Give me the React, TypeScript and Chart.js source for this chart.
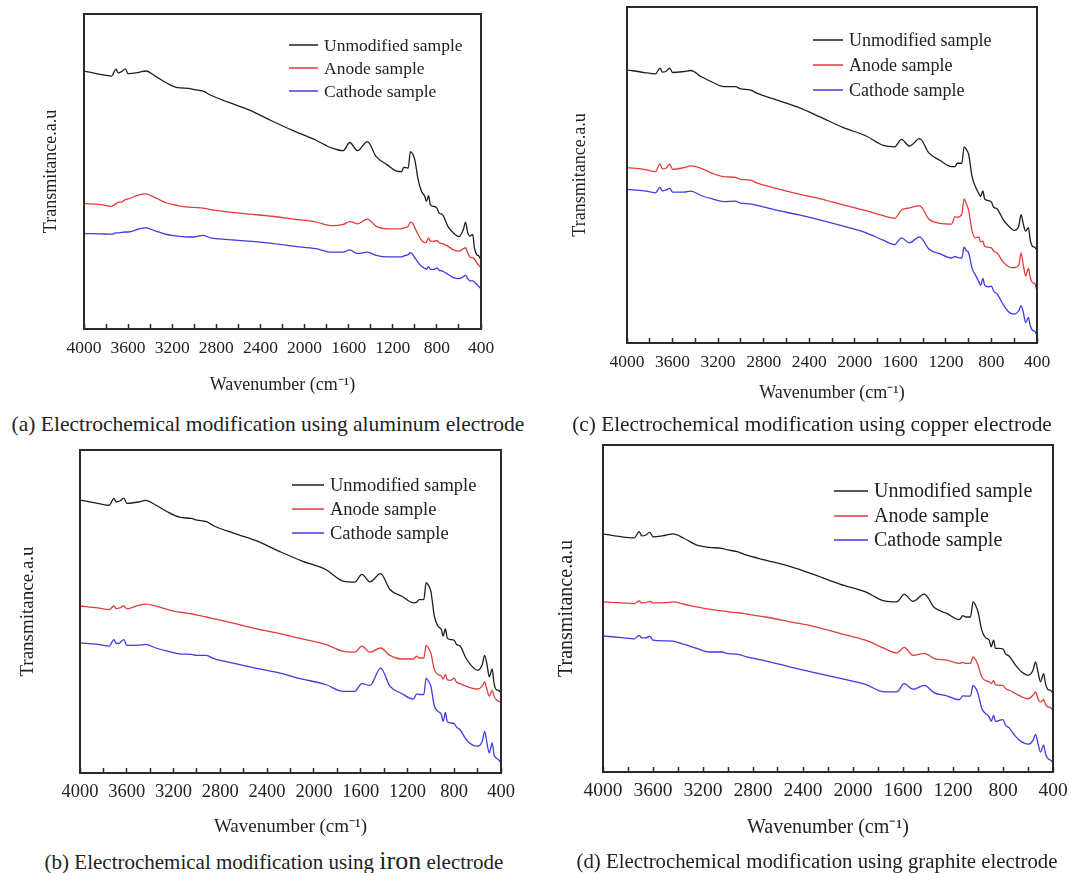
import React, { useEffect, useRef } from "react";
import { Chart, registerables } from "chart.js";

Chart.register(...registerables);

// Shared wavenumber grid (cm^-1), read left (4000) to right (400)
const wavenumbers = [4000, 3850, 3750, 3710, 3690, 3660, 3625, 3600, 3500, 3440, 3350, 3250, 3150, 3050, 3000, 2920, 2850, 2700, 2500, 2300, 2100, 1900, 1750, 1650, 1590, 1520, 1430, 1350, 1250, 1150, 1120, 1100, 1060, 1040, 1020, 1000, 970, 940, 910, 895, 875, 860, 830, 800, 780, 750, 700, 650, 600, 560, 540, 520, 500, 475, 460, 440, 420, 400];

// (a) aluminum electrode
const alUnmodified = [81.9, 80.8, 80.3, 82.5, 81.3, 81.7, 82.6, 81.1, 81.5, 81.9, 80.2, 78.1, 76.6, 76.4, 76.0, 75.5, 74.2, 72.1, 69.5, 66.1, 62.9, 60.0, 57.4, 56.6, 59.2, 56.6, 59.5, 54.7, 52.1, 50.0, 50.0, 51.3, 51.1, 56.3, 55.6, 53.7, 47.4, 43.7, 42.1, 40.5, 42.3, 39.5, 38.9, 38.4, 36.8, 36.3, 32.6, 30.5, 29.3, 31.6, 33.9, 30.5, 29.5, 30.0, 25.8, 23.7, 23.2, 21.9];
const alAnode = [39.8, 39.5, 38.9, 39.8, 40.2, 40.3, 41.1, 41.3, 42.6, 42.9, 41.6, 40.0, 39.2, 38.7, 38.6, 38.4, 37.9, 37.2, 36.5, 35.8, 34.9, 34.0, 32.8, 33.2, 34.1, 33.4, 34.9, 32.6, 31.8, 31.8, 31.9, 32.1, 32.6, 33.9, 33.5, 32.1, 30.0, 28.2, 27.4, 27.6, 28.9, 27.9, 27.8, 28.1, 27.4, 27.1, 26.3, 25.1, 24.7, 25.5, 25.8, 24.2, 22.8, 22.6, 22.3, 21.1, 20.2, 19.5];
const alCathode = [30.3, 30.2, 30.1, 30.5, 30.5, 30.7, 30.8, 30.8, 31.8, 32.1, 31.1, 30.0, 29.5, 29.2, 29.2, 29.7, 28.9, 28.4, 27.9, 27.2, 26.3, 25.5, 24.4, 24.4, 25.1, 24.0, 24.4, 23.4, 22.9, 22.9, 22.9, 23.2, 23.6, 24.2, 23.7, 22.6, 21.1, 20.0, 19.2, 18.9, 19.8, 18.9, 18.9, 19.4, 18.7, 18.4, 17.4, 16.3, 16.0, 16.6, 17.1, 16.0, 15.3, 15.3, 14.9, 14.2, 13.5, 12.8];

// (c) copper electrode
const cuUnmodified = [81.3, 80.5, 80.1, 81.8, 80.6, 80.8, 81.8, 80.5, 80.8, 81.1, 79.3, 77.6, 76.3, 76.3, 75.6, 75.3, 74.2, 72.5, 70.2, 67.2, 64.1, 61.6, 58.8, 58.4, 60.6, 58.6, 60.8, 56.6, 54.3, 52.5, 52.5, 53.5, 53.5, 58.4, 57.6, 56.1, 49.5, 46.5, 44.4, 43.6, 45.3, 42.9, 42.4, 41.9, 40.4, 39.9, 36.9, 34.8, 33.5, 34.8, 38.2, 35.4, 33.3, 34.3, 30.8, 28.8, 28.5, 27.5];
const cuAnode = [52.2, 51.7, 51.0, 53.3, 51.8, 52.0, 53.2, 51.7, 52.2, 52.7, 52.0, 50.5, 49.5, 49.3, 48.7, 48.5, 47.5, 46.1, 44.4, 42.9, 41.1, 39.4, 37.9, 37.1, 39.6, 40.2, 40.8, 36.9, 35.6, 35.4, 37.6, 37.4, 38.4, 42.9, 41.4, 39.4, 33.3, 31.3, 31.5, 30.1, 30.3, 28.8, 28.5, 28.3, 27.3, 26.8, 24.2, 22.7, 22.4, 23.2, 26.8, 23.2, 20.0, 22.2, 19.7, 18.0, 17.7, 15.4];
const cuCathode = [45.7, 45.3, 44.7, 46.3, 45.3, 45.5, 46.0, 44.9, 44.9, 45.2, 43.9, 42.9, 42.1, 42.2, 41.6, 41.4, 40.9, 39.6, 38.2, 36.6, 34.8, 32.8, 30.6, 29.3, 31.3, 29.8, 31.6, 28.0, 26.5, 25.3, 25.8, 25.5, 25.3, 28.5, 27.5, 26.8, 22.2, 20.2, 18.2, 17.2, 19.2, 17.2, 16.7, 16.9, 15.4, 14.6, 11.6, 9.3, 8.6, 9.6, 11.1, 9.1, 6.1, 7.6, 5.3, 3.8, 3.5, 2.2];

// (b) iron electrode
const feUnmodified = [84.5, 83.5, 82.9, 85.0, 83.9, 84.2, 85.1, 83.5, 83.9, 84.4, 82.9, 80.8, 79.2, 78.8, 78.3, 77.8, 76.4, 74.4, 72.0, 68.7, 65.6, 63.0, 59.4, 59.1, 61.5, 59.2, 61.7, 56.8, 54.8, 52.7, 52.9, 53.7, 53.7, 58.9, 58.1, 56.3, 48.6, 45.5, 44.4, 42.4, 44.6, 41.8, 41.3, 41.1, 39.8, 39.3, 35.6, 33.1, 31.8, 33.6, 36.4, 33.6, 29.8, 32.2, 27.9, 25.8, 25.6, 24.8];
const feAnode = [51.7, 51.1, 50.6, 51.7, 50.9, 51.1, 51.7, 50.8, 51.9, 52.3, 51.7, 50.6, 49.8, 49.3, 48.9, 48.3, 47.7, 46.5, 44.7, 43.2, 41.5, 39.8, 37.7, 37.4, 39.3, 37.4, 38.7, 36.4, 35.3, 35.3, 36.2, 35.6, 35.6, 39.5, 38.7, 37.2, 32.0, 30.5, 30.0, 29.1, 30.5, 28.9, 28.7, 29.4, 28.1, 27.7, 26.9, 26.3, 26.0, 26.9, 28.2, 25.8, 23.8, 25.6, 23.8, 22.7, 22.2, 21.9];
const feCathode = [40.3, 39.8, 39.3, 41.3, 40.1, 40.3, 41.3, 39.5, 39.6, 39.8, 38.7, 37.7, 36.9, 36.7, 36.4, 36.4, 35.3, 34.1, 32.5, 31.0, 29.1, 27.4, 25.3, 25.3, 27.7, 27.1, 32.5, 26.9, 24.6, 22.9, 24.5, 24.3, 24.3, 29.4, 28.4, 26.9, 20.7, 19.1, 18.1, 16.0, 18.8, 16.0, 15.5, 15.3, 14.2, 13.4, 10.5, 8.8, 8.3, 9.8, 12.9, 9.3, 6.2, 9.3, 5.7, 4.6, 4.1, 3.1];

// (d) graphite electrode
const grUnmodified = [72.8, 71.9, 71.6, 73.5, 72.2, 72.4, 73.3, 71.9, 72.4, 72.8, 71.4, 69.4, 68.7, 68.4, 67.9, 67.3, 66.3, 64.8, 62.8, 60.2, 57.4, 55.1, 52.3, 52.0, 54.3, 52.2, 54.4, 50.3, 48.5, 46.6, 47.8, 47.4, 47.4, 52.0, 51.0, 49.0, 43.4, 41.1, 40.3, 38.3, 40.3, 37.8, 37.8, 37.6, 36.2, 35.4, 32.7, 30.6, 29.6, 31.1, 33.7, 30.6, 27.6, 30.1, 27.0, 25.2, 25.0, 24.0];
const grAnode = [52.0, 51.7, 51.5, 52.3, 51.7, 51.8, 52.2, 51.7, 51.8, 52.0, 51.3, 50.5, 49.8, 49.3, 49.0, 48.7, 48.3, 47.4, 45.9, 44.4, 42.3, 40.3, 37.8, 36.4, 38.1, 35.7, 36.3, 34.7, 34.2, 33.2, 33.5, 33.2, 33.2, 35.2, 34.4, 32.7, 29.1, 27.9, 27.6, 27.0, 27.9, 26.7, 26.5, 26.5, 25.5, 25.0, 24.0, 23.0, 22.4, 23.5, 24.5, 22.4, 21.4, 22.1, 20.7, 19.9, 19.7, 18.9];
const grCathode = [41.6, 41.1, 40.7, 41.8, 41.0, 41.0, 41.5, 40.3, 40.1, 40.0, 39.0, 37.8, 36.7, 36.7, 36.2, 36.0, 35.2, 34.0, 32.1, 30.3, 28.6, 26.8, 24.5, 24.5, 27.0, 25.3, 26.5, 24.2, 23.3, 22.1, 23.3, 23.2, 23.2, 26.5, 25.7, 24.0, 19.4, 17.9, 16.8, 15.5, 17.3, 15.5, 15.8, 16.0, 14.3, 13.5, 10.9, 9.2, 8.5, 9.7, 11.5, 8.7, 6.1, 8.2, 5.6, 4.1, 3.6, 2.9];

const seriesLabels = ["Unmodified sample", "Anode sample", "Cathode sample"];
const seriesColors = ["#1e1e1e", "#e33c3c", "#3c3ce2"];
const xMin = 400;
const xMax = 4000;
const xStep = 200;
const xLabelStep = 400;
const xTitle = "Wavenumber (cm\u207B\u00B9)";
const yTitle = "Transmitance.a.u";

const FONT = '"Liberation Serif", "Times New Roman", Times, serif';
const YW = 70; // y-axis box width
const XH = 70; // x-axis box height
const PT = 10; // top padding
const PR = 30; // right padding

type PanelSpec = {
  id: string;
  series: number[][];
  L: number; T: number; R: number; B: number;
  tickFs: number; legendFs: number; titleFs: number;
  lx1: number; lx2: number; ltx: number; rows: number[];
  yTitleX: number; xTitleY: number;
  caption: React.ReactNode; capX: number; capY: number; capFs: number;
};

const panels: PanelSpec[] = [
  {
    id: "a", series: [alUnmodified, alAnode, alCathode],
    L: 84, T: 14, R: 481, B: 329, tickFs: 17.5, legendFs: 17.5, titleFs: 18,
    lx1: 289, lx2: 318, ltx: 324, rows: [45, 68, 91],
    yTitleX: 51, xTitleY: 385,
    caption: "(a) Electrochemical modification using aluminum electrode", capX: 268, capY: 425, capFs: 21.5,
  },
  {
    id: "c", series: [cuUnmodified, cuAnode, cuCathode],
    L: 627, T: 7, R: 1037, B: 343, tickFs: 17.5, legendFs: 18, titleFs: 18,
    lx1: 813, lx2: 843, ltx: 849, rows: [40, 65, 90],
    yTitleX: 580, xTitleY: 393,
    caption: "(c) Electrochemical modification using copper electrode", capX: 812, capY: 425, capFs: 21.3,
  },
  {
    id: "b", series: [feUnmodified, feAnode, feCathode],
    L: 80, T: 450, R: 501, B: 773, tickFs: 18.5, legendFs: 18.5, titleFs: 19,
    lx1: 292, lx2: 324, ltx: 330, rows: [485, 509, 533],
    yTitleX: 28, xTitleY: 827,
    caption: (
      <>
        (b) Electrochemical modification using <span style={{ fontSize: 26, fontFamily: '"Liberation Serif", serif' }}>iron</span> electrode
      </>
    ),
    capX: 274, capY: 861, capFs: 21,
  },
  {
    id: "d", series: [grUnmodified, grAnode, grCathode],
    L: 603, T: 445, R: 1053, B: 772, tickFs: 19.5, legendFs: 20, titleFs: 20,
    lx1: 834, lx2: 868, ltx: 874, rows: [491, 516, 540],
    yTitleX: 567, xTitleY: 828,
    caption: "(d) Electrochemical modification using graphite electrode", capX: 817, capY: 861, capFs: 20.8,
  },
];

function PanelChart({ p }: { p: PanelSpec }) {
  const ref = useRef<HTMLCanvasElement | null>(null);
  const cl = p.L - YW;
  const ct = p.T - PT;
  const cw = p.R - p.L + YW + PR;
  const ch = p.B - p.T + PT + XH;

  useEffect(() => {
    if (!ref.current) return;
    const frame = {
      id: "frame" + p.id,
      afterDraw(chart: any) {
        const { ctx, chartArea: a } = chart;
        ctx.save();
        ctx.strokeStyle = "#2a2a2a";
        ctx.lineWidth = 2;
        ctx.strokeRect(a.left, a.top, a.right - a.left, a.bottom - a.top);
        // legend
        ctx.font = `${p.legendFs}px ${FONT}`;
        ctx.textBaseline = "middle";
        ctx.textAlign = "left";
        seriesLabels.forEach((lab, i) => {
          const y = p.rows[i] - ct;
          ctx.strokeStyle = seriesColors[i];
          ctx.lineWidth = 1.5;
          ctx.beginPath();
          ctx.moveTo(p.lx1 - cl, y);
          ctx.lineTo(p.lx2 - cl, y);
          ctx.stroke();
          ctx.fillStyle = "#222";
          ctx.fillText(lab, p.ltx - cl, y + 1);
        });
        ctx.restore();
      },
    };
    const titleLH = p.titleFs * 1.2;
    const chart = new Chart(ref.current, {
      type: "line",
      data: {
        datasets: p.series.map((vals, i) => ({
          label: seriesLabels[i],
          data: wavenumbers.map((w, k) => ({ x: w, y: vals[k] })),
          borderColor: seriesColors[i],
          backgroundColor: seriesColors[i],
          borderWidth: 1.3,
          pointRadius: 0,
          cubicInterpolationMode: "monotone" as const,
          fill: false,
        })),
      },
      options: {
        animation: false,
        responsive: false,
        devicePixelRatio: 1,
        layout: { padding: { left: 0, top: PT, right: PR, bottom: 0 } },
        plugins: { legend: { display: false }, tooltip: { enabled: false } },
        scales: {
          x: {
            type: "linear",
            min: xMin,
            max: xMax,
            reverse: true,
            border: { display: false },
            grid: { display: true, drawOnChartArea: false, drawTicks: true, tickLength: -5, tickColor: "#2a2a2a", tickWidth: 1.5 },
            ticks: {
              stepSize: xStep,
              autoSkip: false,
              maxRotation: 0,
              padding: 24 - (p.tickFs * 1.2) / 2,
              color: "#222",
              font: { family: FONT, size: p.tickFs },
              callback: (v: any) => (Number(v) % xLabelStep === 0 ? String(v) : ""),
            },
            title: {
              display: true,
              text: xTitle,
              color: "#222",
              font: { family: FONT, size: p.titleFs },
              padding: { top: 0, bottom: Math.max(0, p.B + XH - p.xTitleY - titleLH / 2) },
            },
            afterFit: (s: any) => { s.height = XH; },
          },
          y: {
            min: 0,
            max: 100,
            border: { display: false },
            grid: { display: false },
            ticks: { display: false },
            title: {
              display: true,
              text: yTitle,
              color: "#222",
              font: { family: FONT, size: p.titleFs },
              padding: { top: Math.max(0, p.yTitleX - cl - titleLH / 2), bottom: 0 },
            },
            afterFit: (s: any) => { s.width = YW; },
          },
        },
      },
      plugins: [frame],
    } as any);
    return () => chart.destroy();
  }, []);

  return (
    <canvas
      ref={ref}
      width={cw}
      height={ch}
      style={{ position: "absolute", left: cl, top: ct, width: cw, height: ch }}
    />
  );
}

export default function App() {
  return (
    <div style={{ position: "absolute", left: 0, top: 0, width: 1071, height: 873, background: "#fff", overflow: "hidden" }}>
      {panels.map((p) => (
        <React.Fragment key={p.id}>
          <PanelChart p={p} />
          <div
            style={{
              position: "absolute",
              left: p.capX,
              top: p.capY,
              transform: "translate(-50%, -50%)",
              whiteSpace: "nowrap",
              fontFamily: FONT,
              fontSize: p.capFs,
              color: "#222",
              lineHeight: 1,
            }}
          >
            {p.caption}
          </div>
        </React.Fragment>
      ))}
    </div>
  );
}
